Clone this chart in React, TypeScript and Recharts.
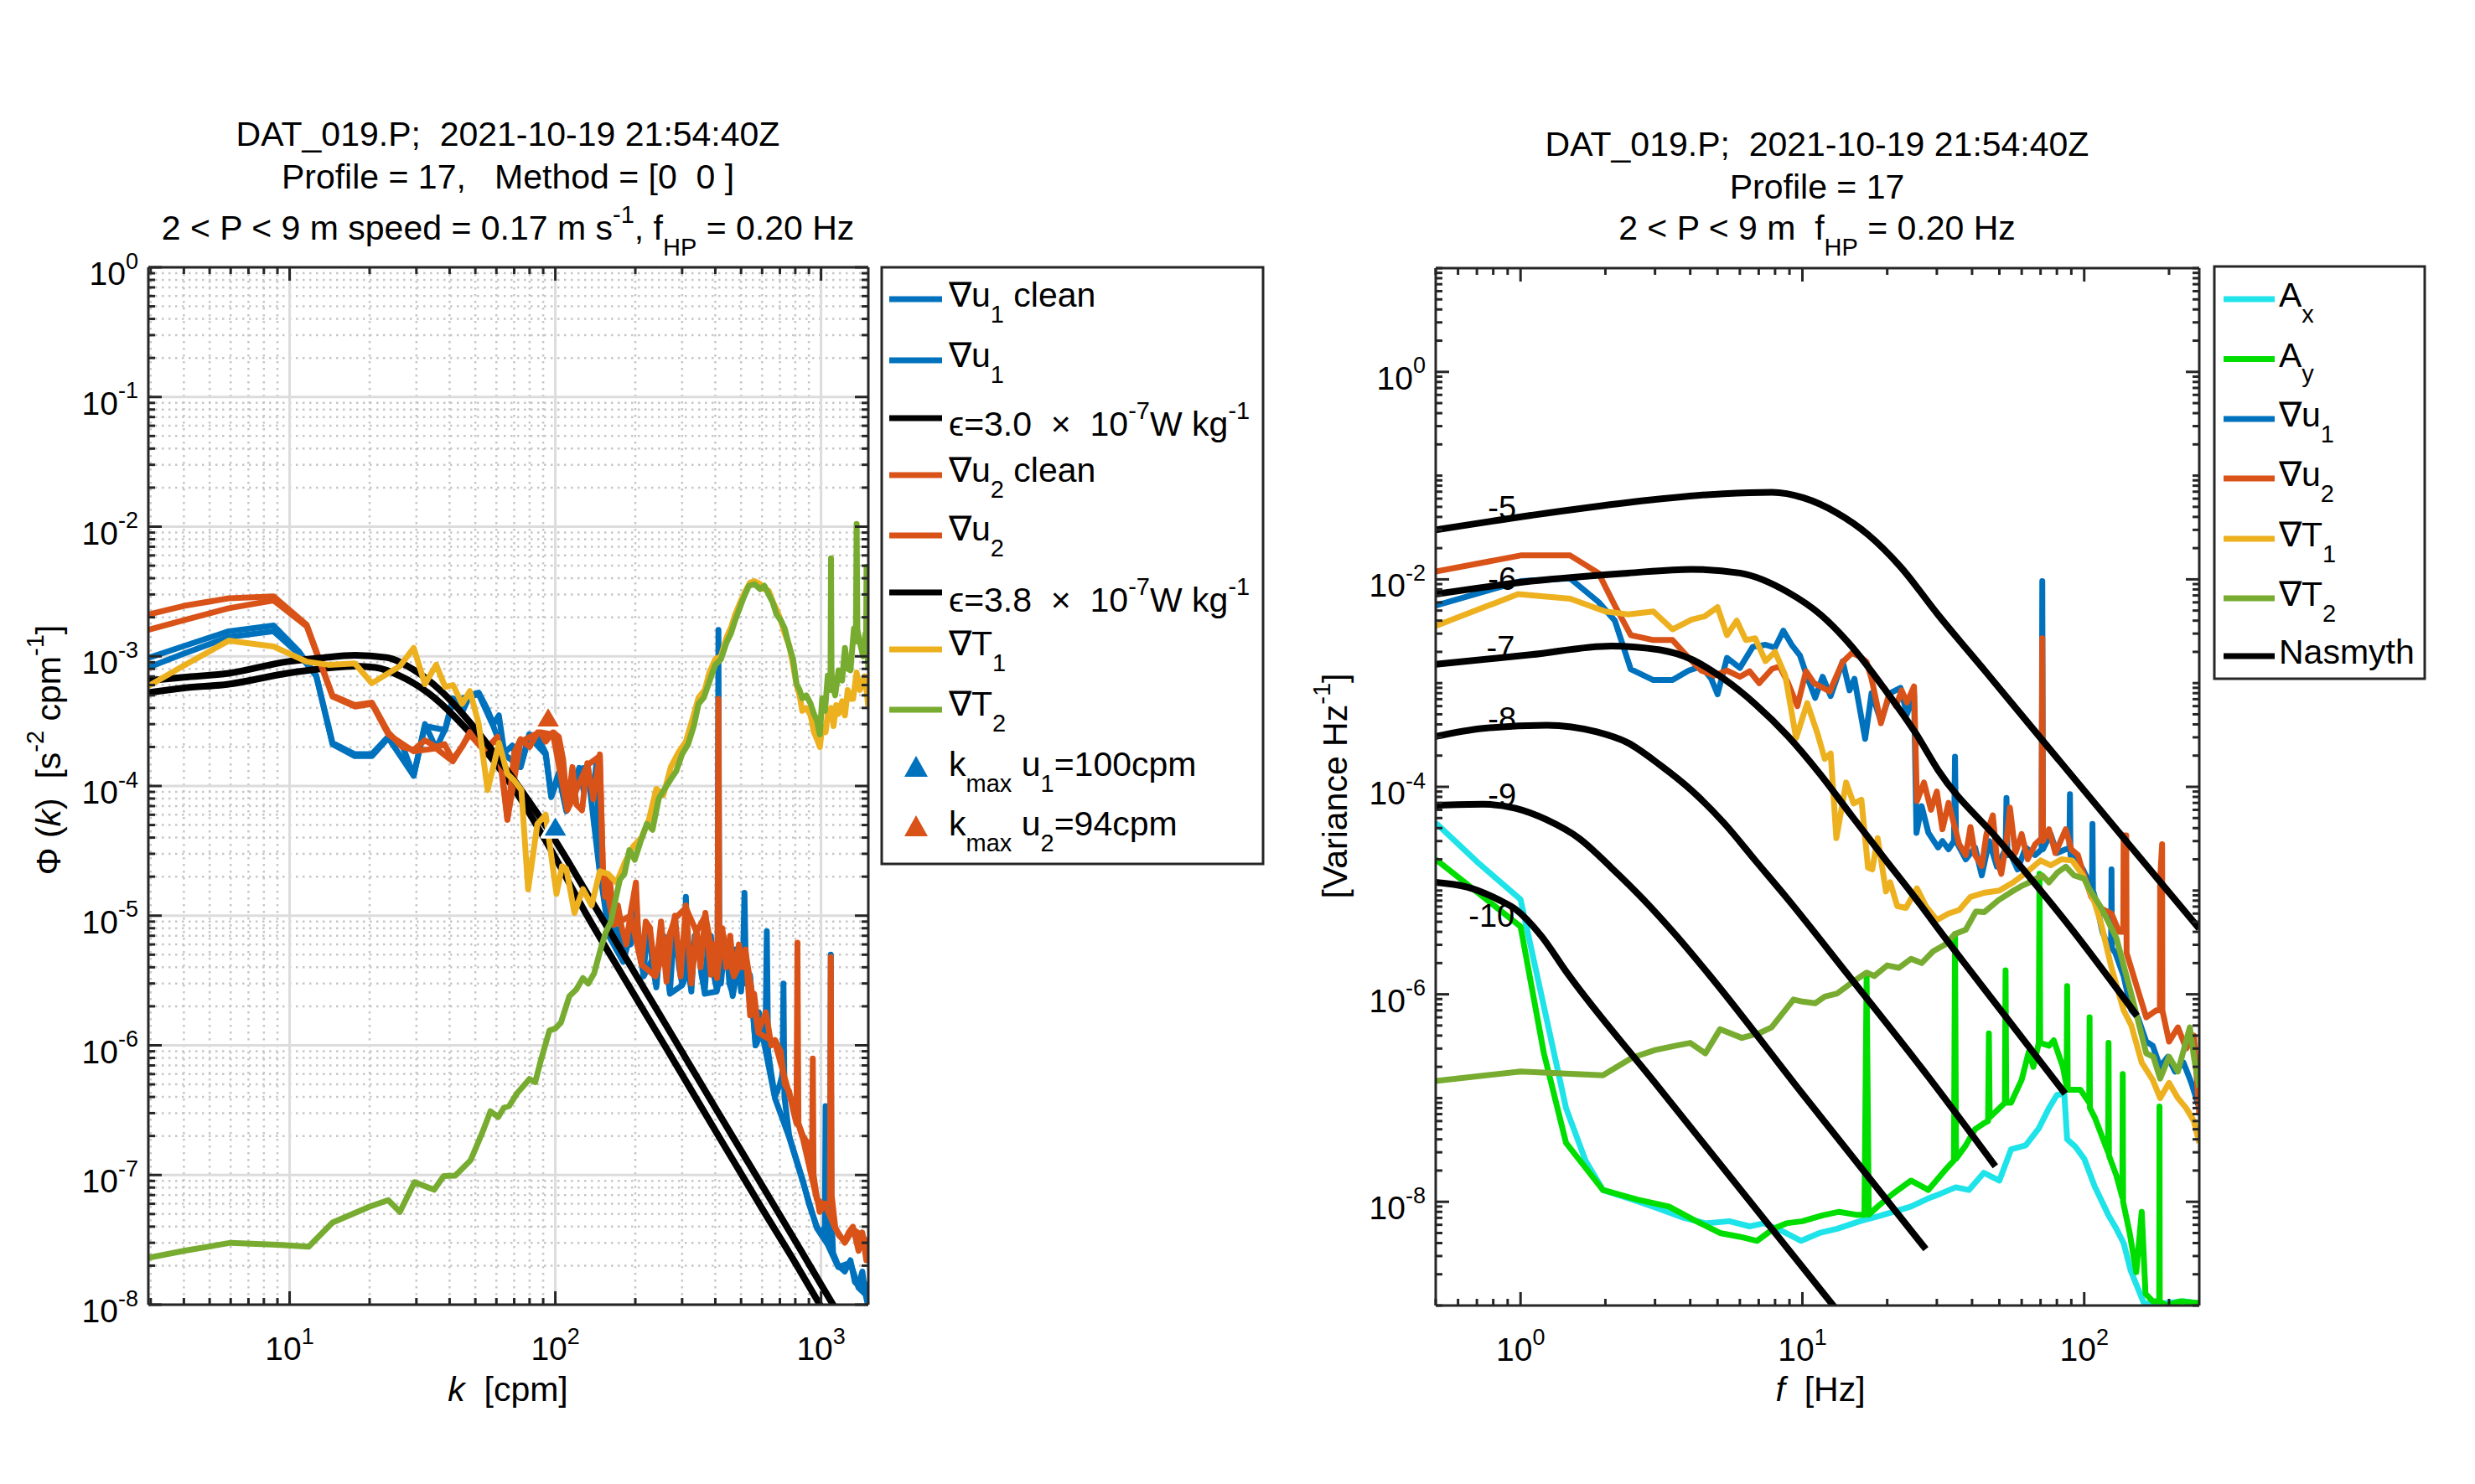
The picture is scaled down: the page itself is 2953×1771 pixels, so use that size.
import React from "react";
import { CartesianGrid, ComposedChart, Line, Scatter, XAxis, YAxis } from "recharts";

type Pt = [number, number];
type Seg = [string, string?];

const FONT = '"Liberation Sans", Arial, Helvetica, sans-serif';
const AXIS_COLOR = "#262626";
const BLUE = "#0072BD";
const ORANGE = "#D95319";
const YELLOW = "#EDB120";
const GREEN = "#77AC30";
const CYAN = "#1EE3E8";
const LIME = "#00DE00";
const TICK_FONT = 39;

// ---------------- left panel: wavenumber spectra, k in cpm ----------------
const u1CleanK: Pt[] = [
  [2.94, 8.2e-4], [4.0, 1.05e-3], [5.9, 1.41e-3], [8.7, 1.56e-3], [10.8, 1.05e-3], [12.6, 7.0e-4],
  [14.5, 2.1e-4], [17.6, 1.7e-4], [20.4, 1.7e-4], [23.5, 2.35e-4], [29.3, 1.2e-4], [32.3, 2.9e-4],
  [38.5, 2.7e-4], [41.2, 4.6e-4], [47.7, 4.9e-4], [51.5, 5.1e-4], [58.4, 2.9e-4], [64.3, 1.75e-4],
  [74, 1.4e-4], [79.7, 2.4e-4], [92, 1.75e-4], [96.5, 8.2e-5], [103, 1.2e-4], [110, 6.4e-5],
  [123, 1.35e-4], [132, 1.4e-4], [146, 2.4e-5], [160, 6.8e-6], [180, 4.4e-6], [201, 1.05e-5],
  [215, 3.4e-6], [255, 6.8e-6], [270, 2.5e-6], [300, 2.9e-6], [345, 5.8e-6], [365, 2.5e-6],
  [405, 2.6e-6], [440, 5.8e-6], [465, 2.4e-6], [490, 4.4e-6], [540, 3.4e-6], [567, 1.0e-6],
  [600, 1.25e-6], [671, 3.9e-7], [759, 1.95e-7], [855, 8.8e-8], [964, 3.9e-8], [1060, 2.9e-8],
  [1160, 1.95e-8], [1290, 2.1e-8], [1384, 1.35e-8], [1470, 1.2e-8], [1506, 1.4e-8],
];

const u1K: Pt[] = [
  [2.94, 9.7e-4], [4.0, 1.2e-3], [5.9, 1.56e-3], [8.7, 1.73e-3], [10.8, 1.1e-3], [12.6, 7.1e-4],
  [14.5, 2.15e-4], [17.6, 1.76e-4], [20.4, 1.76e-4], [23.5, 2.4e-4], [26.7, 2.0e-4], [29.3, 1.2e-4],
  [32.3, 3.0e-4], [35.6, 1.95e-4], [38.5, 2.75e-4], [41.2, 4.75e-4], [44.6, 3.7e-4], [47.7, 5.0e-4],
  [51.5, 5.25e-4], [55.5, 3.9e-4], [58.4, 3.0e-4], [61.3, 3.5e-4], [64.3, 1.8e-4], [68.9, 2.05e-4],
  [74, 1.4e-4], [79.7, 2.5e-4], [85.6, 2.4e-4], [92, 1.8e-4], [96.5, 8.4e-5], [103, 1.26e-4],
  [110, 6.6e-5], [118, 1.07e-4], [123, 1.38e-4], [128, 9.0e-5], [132, 1.45e-4], [139, 8.0e-5],
  [143, 1.6e-4], [146, 2.5e-5], [152, 2.0e-5], [160, 7.0e-6], [165, 1.0e-5], [170, 5.5e-6],
  [175, 8.0e-6], [180, 4.5e-6], [186, 7.0e-6], [192, 6.0e-6], [201, 1.1e-5], [208, 5.0e-6],
  [215, 3.5e-6], [221, 7.5e-6], [227, 6.5e-6], [233, 4.0e-6], [240, 2.8e-6], [248, 6.0e-6],
  [255, 7.0e-6], [262, 4.0e-6], [270, 2.6e-6], [278, 6.5e-6], [285, 7.5e-6], [292, 4.0e-6],
  [300, 3.0e-6], [306, 5.0e-6], [310, 1.4e-5], [316, 4.0e-6], [325, 2.6e-6], [335, 7.0e-6],
  [345, 6.0e-6], [355, 3.5e-6], [365, 2.6e-6], [375, 6.0e-6], [385, 7.0e-6], [395, 3.5e-6],
  [405, 2.7e-6], [408, 5.0e-6], [411, 1.6e-3], [414, 6.0e-6], [420, 3.0e-6], [430, 5.0e-6],
  [440, 6.0e-6], [452, 3.0e-6], [465, 2.5e-6], [478, 5.5e-6], [490, 4.5e-6], [500, 2.6e-6],
  [508, 4.0e-6], [515, 1.5e-5], [522, 3.0e-6], [540, 3.5e-6], [553, 2.0e-6], [567, 1.0e-6],
  [583, 1.8e-6], [600, 1.3e-6], [618, 1.2e-6], [625, 7.6e-6], [632, 9.0e-7], [650, 6.0e-7],
  [671, 4.0e-7], [700, 5.0e-7], [716, 6.0e-7], [722, 3.0e-6], [728, 4.0e-7], [759, 2.0e-7],
  [800, 1.4e-7], [855, 9.0e-8], [900, 6.0e-8], [964, 4.0e-8], [1000, 3.5e-8], [1034, 4.0e-8],
  [1040, 3.4e-7], [1046, 4.0e-8], [1060, 3.0e-8], [1082, 5.0e-8], [1088, 5.0e-6], [1094, 5.0e-8],
  [1110, 2.5e-8], [1160, 2.0e-8], [1228, 1.8e-8], [1290, 2.2e-8], [1340, 1.5e-8], [1384, 1.4e-8],
  [1430, 1.8e-8], [1470, 1.2e-8], [1500, 1.0e-8], [1506, 1.5e-8],
];

const eps1K: Pt[] = [
  [2.94, 5.25e-4], [4, 5.7e-4], [5.9, 6.1e-4], [9.8, 7.4e-4], [13, 8.0e-4], [17.6, 8.4e-4],
  [21, 8.2e-4], [25.9, 7.1e-4], [33.1, 5.25e-4], [42.2, 3.36e-4], [53.7, 1.95e-4], [68.4, 1.02e-4],
  [87, 4.6e-5], [100, 2.8e-5], [130, 1.05e-5], [180, 3.4e-6], [260, 9.7e-7], [400, 2.2e-7],
  [600, 5.5e-8], [800, 2.1e-8], [990, 1.0e-8], [1200, 5.2e-9],
];

const u2CleanK: Pt[] = [
  [2.94, 1.6e-3], [4.0, 1.9e-3], [5.9, 2.35e-3], [8.7, 2.7e-3], [11.6, 1.7e-3], [14.5, 4.9e-4],
  [17.6, 4.1e-4], [20.4, 4.3e-4], [23.5, 2.5e-4], [29.3, 1.85e-4], [35.6, 1.95e-4], [41.1, 1.55e-4],
  [47.6, 2.5e-4], [53.7, 1.9e-4], [60.6, 2.3e-4], [66, 5.5e-5], [74, 2.2e-4], [87, 2.6e-4],
  [98, 2.5e-4], [111, 6.5e-5], [132, 1.45e-4], [147, 1.7e-4], [151, 2.2e-5], [166, 8.5e-6],
  [192, 1.0e-5], [211, 4.2e-6], [238, 3.4e-6], [282, 9.5e-6], [310, 1.15e-5], [340, 7.5e-6],
  [367, 1.0e-5], [406, 3.3e-6], [425, 7.5e-6], [470, 3.4e-6], [520, 5.2e-6], [581, 1.25e-6],
  [671, 1.05e-6], [759, 4.2e-7], [855, 1.9e-7], [964, 6.5e-8], [1040, 5.8e-8], [1130, 3.9e-8],
  [1228, 3.0e-8], [1318, 3.8e-8], [1430, 3.4e-8], [1506, 2.9e-8],
];

const u2K: Pt[] = [
  [2.94, 2.1e-3], [4.0, 2.45e-3], [5.9, 2.8e-3], [8.7, 2.9e-3], [11.6, 1.75e-3], [14.5, 5.0e-4],
  [17.6, 4.2e-4], [20.4, 4.4e-4], [23.5, 2.6e-4], [26.5, 2.0e-4], [29.3, 1.9e-4], [32.3, 2.25e-4],
  [35.6, 2.0e-4], [38.3, 2.1e-4], [41.1, 1.6e-4], [44.5, 2.0e-4], [47.6, 2.6e-4], [50.5, 2.2e-4],
  [53.7, 2.0e-4], [57, 2.1e-4], [60.6, 2.4e-4], [64, 1.0e-4], [66, 5.5e-5], [70, 1.8e-4],
  [74, 2.3e-4], [80, 2.0e-4], [87, 2.7e-4], [92, 2.2e-4], [98, 2.6e-4], [103, 2.4e-4],
  [107, 1.6e-4], [111, 6.6e-5], [116, 1.4e-4], [120, 7.2e-5], [126, 6.5e-5], [132, 1.5e-4],
  [139, 7.9e-5], [147, 1.75e-4], [151, 2.3e-5], [154, 1.4e-5], [160, 2.0e-5], [166, 9.0e-6],
  [172, 1.2e-5], [178, 8.0e-6], [185, 6.0e-6], [192, 1.05e-5], [201, 1.8e-5], [206, 6.0e-6],
  [211, 4.3e-6], [219, 9.0e-6], [227, 8.1e-6], [238, 3.5e-6], [250, 9.0e-6], [262, 3.1e-6],
  [272, 7.0e-6], [282, 1.0e-5], [296, 3.4e-6], [310, 1.2e-5], [325, 3.0e-6], [340, 8.0e-6],
  [352, 4.0e-6], [367, 1.05e-5], [385, 3.5e-6], [398, 6.0e-6], [406, 3.4e-6], [408, 5.0e-6],
  [411, 4.7e-4], [414, 6.0e-6], [425, 8.0e-6], [440, 4.0e-6], [455, 7.0e-6], [470, 3.5e-6],
  [491, 6.0e-6], [505, 4.0e-6], [520, 5.5e-6], [541, 1.7e-6], [560, 2.5e-6], [581, 1.3e-6],
  [620, 1.8e-6], [650, 1.0e-6], [671, 1.1e-6], [705, 9.0e-7], [730, 5.0e-7], [759, 4.4e-7],
  [790, 3.0e-7], [808, 2.5e-7], [815, 6.2e-6], [822, 2.5e-7], [855, 2.0e-7], [898, 1.7e-7],
  [925, 1.2e-7], [931, 7.9e-7], [937, 1.0e-7], [964, 6.8e-8], [988, 5.2e-8], [1040, 6.0e-8],
  [1080, 6.0e-8], [1088, 4.8e-6], [1096, 7.0e-8], [1130, 4.0e-8], [1170, 3.4e-8], [1228, 3.1e-8],
  [1270, 3.6e-8], [1318, 4.0e-8], [1384, 2.6e-8], [1430, 3.6e-8], [1480, 2.2e-8], [1506, 3.0e-8],
];

const eps2K: Pt[] = [
  [2.94, 6.5e-4], [4, 6.9e-4], [5.9, 7.4e-4], [9.8, 9.1e-4], [13, 9.7e-4], [17.6, 1.02e-3],
  [23.1, 9.8e-4], [29.5, 7.8e-4], [37.7, 5.25e-4], [48, 3.05e-4], [61.4, 1.6e-4], [78.3, 8.0e-5],
  [100, 3.8e-5], [130, 1.55e-5], [180, 5.1e-6], [260, 1.45e-6], [400, 3.3e-7], [600, 8.3e-8],
  [800, 3.1e-8], [1110, 1.0e-8], [1300, 5.9e-9],
];

const t1K: Pt[] = [
  [2.94, 5.9e-4], [4.0, 8.5e-4], [5.9, 1.32e-3], [8.7, 1.19e-3], [11.6, 9.1e-4], [14, 8.6e-4],
  [17.6, 8.8e-4], [20.4, 6.2e-4], [26, 8.4e-4], [29.3, 1.16e-3], [32.3, 6.1e-4], [35.6, 8.6e-4],
  [38.5, 5.8e-4], [41.2, 6.0e-4], [44.6, 4.3e-4], [47.7, 5.4e-4], [51.5, 3.0e-4], [55.6, 9.3e-5],
  [61.4, 2.15e-4], [66, 1.24e-4], [70, 1.1e-4], [74.5, 9.3e-5], [79, 1.6e-5], [85.6, 5.1e-5],
  [92, 6.0e-5], [101, 1.47e-5], [106, 2.4e-5], [110, 2.3e-5], [118, 1.05e-5], [127, 1.6e-5],
  [137, 1.2e-5], [147, 2.2e-5], [158, 2.1e-5], [170, 1.8e-5], [183, 2.6e-5], [196, 3.4e-5],
  [211, 4.0e-5], [225, 5.5e-5], [240, 9.5e-5], [255, 8.5e-5], [272, 1.4e-4], [290, 1.8e-4],
  [310, 2.2e-4], [330, 3.4e-4], [346, 4.8e-4], [365, 5.5e-4], [380, 7.5e-4], [400, 9.5e-4],
  [420, 1.0e-3], [441, 1.4e-3], [460, 1.7e-3], [475, 2.1e-3], [500, 2.7e-3], [520, 3.2e-3],
  [540, 3.7e-3], [562, 3.8e-3], [590, 3.6e-3], [610, 3.3e-3], [635, 3.2e-3], [660, 2.6e-3],
  [680, 2.3e-3], [705, 1.9e-3], [730, 1.5e-3], [760, 1.2e-3], [785, 8.5e-4], [809, 6.0e-4],
  [830, 5.0e-4], [850, 3.8e-4], [880, 4.0e-4], [914, 3.5e-4], [940, 2.6e-4], [965, 2.3e-4],
  [990, 2.0e-4], [1010, 2.9e-4], [1040, 2.6e-4], [1060, 3.6e-4], [1090, 4.0e-4], [1114, 2.9e-4],
  [1140, 4.2e-4], [1164, 3.6e-4], [1200, 4.5e-4], [1230, 3.5e-4], [1260, 5.5e-4], [1290, 4.7e-4],
  [1320, 4.7e-4], [1361, 7.5e-4], [1400, 5.5e-4], [1422, 6.0e-4], [1460, 7.0e-4], [1483, 5.5e-4],
  [1506, 4.1e-4],
];

const t2K: Pt[] = [
  [2.94, 2.3e-8], [4, 2.6e-8], [6, 3.0e-8], [9, 2.9e-8], [11.8, 2.8e-8], [14.5, 4.3e-8],
  [20, 5.7e-8], [23.5, 6.4e-8], [26, 5.2e-8], [29.5, 8.8e-8], [35, 7.7e-8], [38, 9.8e-8],
  [42, 9.9e-8], [48, 1.3e-7], [53, 2.1e-7], [57, 3.1e-7], [61, 2.8e-7], [64, 3.3e-7],
  [67, 3.4e-7], [72, 4.3e-7], [80, 5.5e-7], [84, 5.2e-7], [88, 7.5e-7], [95, 1.3e-6],
  [100, 1.35e-6], [105, 1.5e-6], [113, 2.4e-6], [120, 2.7e-6], [127, 3.3e-6], [133, 3.0e-6],
  [140, 3.6e-6], [148, 5.5e-6], [155, 7.5e-6], [162, 9.0e-6], [168, 1.3e-5], [175, 1.9e-5],
  [182, 2.1e-5], [190, 3.2e-5], [199, 2.7e-5], [210, 3.8e-5], [221, 5.1e-5], [232, 4.6e-5],
  [245, 8.0e-5], [258, 9.5e-5], [272, 1.13e-4], [285, 1.3e-4], [300, 1.76e-4], [316, 2.1e-4],
  [332, 2.9e-4], [346, 4.3e-4], [362, 4.8e-4], [380, 6.4e-4], [400, 8.6e-4], [420, 9.5e-4],
  [441, 1.28e-3], [458, 1.5e-3], [475, 1.9e-3], [492, 2.3e-3], [510, 2.8e-3], [535, 3.5e-3],
  [562, 3.6e-3], [590, 3.3e-3], [612, 3.5e-3], [635, 3.0e-3], [658, 2.6e-3], [680, 2.1e-3],
  [705, 1.9e-3], [730, 1.64e-3], [758, 1.2e-3], [785, 9.5e-4], [809, 6.1e-4], [830, 5.5e-4],
  [850, 4.75e-4], [880, 5.0e-4], [914, 4.3e-4], [940, 3.6e-4], [965, 3.2e-4], [990, 2.5e-4],
  [1010, 4.75e-4], [1035, 3.8e-4], [1060, 7.1e-4], [1080, 5.5e-4], [1086, 8.0e-4], [1090, 5.7e-3],
  [1095, 8.0e-4], [1100, 6.1e-4], [1130, 5.0e-4], [1164, 7.8e-4], [1200, 6.5e-4], [1230, 1.16e-3],
  [1260, 8.0e-4], [1290, 7.8e-4], [1330, 1.64e-3], [1352, 1.3e-3], [1361, 1.05e-2], [1370, 1.6e-3],
  [1400, 1.28e-3], [1440, 1.0e-3], [1470, 1.5e-3], [1478, 1.5e-3], [1483, 4.9e-3], [1490, 1.3e-3],
  [1506, 7.8e-4],
];

const kmaxU1: Pt[] = [[100, 4.75e-5]];
const kmaxU2: Pt[] = [[94, 3.3e-4]];

// ---------------- right panel: frequency spectra, f in Hz ----------------
const axF: Pt[] = [
  [0.5, 4.5e-5], [0.7, 1.9e-5], [1.0, 8.2e-6], [1.45, 8.0e-8], [1.7, 2.5e-8], [1.96, 1.3e-8],
  [2.5, 1.05e-8], [2.98, 8.9e-9], [3.8, 7.0e-9], [4.53, 6.2e-9], [5.5, 6.5e-9], [6.5, 5.8e-9],
  [7.3, 6.2e-9], [8.5, 5.2e-9], [9.9, 4.2e-9], [11.5, 5.0e-9], [13.3, 5.5e-9], [16, 6.5e-9],
  [19.1, 7.4e-9], [24.3, 9.0e-9], [27.8, 1.07e-8], [31, 1.2e-8], [35, 1.38e-8], [39, 1.3e-8],
  [44, 1.9e-8], [50, 1.6e-8], [55, 3.2e-8], [62, 3.5e-8], [69, 5.1e-8], [75, 8.0e-8],
  [80, 1.07e-7], [85, 1.1e-7], [87, 4.0e-8], [93, 3.4e-8], [100, 2.6e-8], [109, 1.4e-8],
  [122, 7.4e-9], [130, 5.5e-9], [138, 4.0e-9], [146, 2.2e-9], [153, 1.6e-9], [163, 1.05e-9],
  [190, 1.05e-9], [225, 1.1e-9], [256, 1.05e-9],
];

const ayF: Pt[] = [
  [0.5, 2.0e-5], [1.0, 4.5e-6], [1.21, 2.7e-7], [1.45, 3.7e-8], [1.96, 1.3e-8], [2.6, 1.05e-8],
  [3.36, 9.0e-9], [4.2, 6.5e-9], [5.1, 5.0e-9], [6.0, 4.6e-9], [6.9, 4.2e-9], [7.9, 5.5e-9],
  [8.77, 6.2e-9], [10, 6.5e-9], [11.8, 7.4e-9], [13.5, 8.0e-9], [15.5, 7.5e-9], [16.6, 7.5e-9],
  [16.9, 1.48e-6], [17.2, 7.5e-9], [18.5, 9.0e-9], [21, 1.2e-8], [24.3, 1.6e-8], [28, 1.3e-8],
  [32, 2.0e-8], [34.5, 2.5e-8], [34.8, 3.8e-6], [35.1, 2.6e-8], [38, 3.5e-8], [41, 5.0e-8],
  [44, 5.7e-8], [45.6, 6.0e-8], [45.9, 4.2e-7], [46.2, 6.5e-8], [50, 8.0e-8], [52.3, 9.0e-8],
  [52.6, 1.7e-6], [52.9, 9.0e-8], [55, 9.0e-8], [60, 1.5e-7], [63.6, 2.8e-7], [66, 2.0e-7],
  [69, 3.4e-7], [69.4, 1.45e-5], [69.8, 3.4e-7], [75, 3.2e-7], [78, 3.6e-7], [84, 2.0e-7],
  [86.6, 1.3e-7], [87, 1.2e-6], [87.4, 1.2e-7], [97, 1.2e-7], [104.2, 9.0e-8], [104.5, 6.0e-7],
  [104.8, 8.0e-8], [109, 6.5e-8], [121.6, 3.0e-8], [122, 3.4e-7], [122.4, 2.8e-8], [130, 1.8e-8],
  [136.6, 1.1e-8], [137, 1.7e-7], [137.4, 1.0e-8], [145, 5.0e-9], [153, 2.1e-9], [160, 8.0e-9],
  [165, 1.3e-9], [175, 1.1e-9], [184.6, 1.1e-9], [185, 8.3e-8], [185.4, 1.1e-9], [195, 1.0e-9],
  [220, 1.1e-9], [256, 1.05e-9],
];

const u1F: Pt[] = [
  [0.5, 5.6e-3], [1.0, 9.6e-3], [1.5, 1.02e-2], [1.89, 6.05e-3], [2.16, 4.0e-3], [2.46, 1.36e-3],
  [2.96, 1.07e-3], [3.46, 1.07e-3], [3.95, 1.32e-3], [4.38, 1.45e-3], [4.75, 1.1e-3], [5.0, 7.8e-4],
  [5.4, 1.75e-3], [6.0, 1.4e-3], [6.67, 2.24e-3], [7.4, 2.34e-3], [8.0, 2.2e-3], [8.56, 3.2e-3],
  [9.2, 2.3e-3], [9.8, 1.85e-3], [10.4, 1.15e-3], [11.1, 7.2e-4], [11.8, 1.15e-3], [12.6, 7.5e-4],
  [13.9, 1.62e-3], [14.7, 8.5e-4], [15.3, 1.1e-3], [16.7, 2.9e-4], [17.6, 8.0e-4], [19.0, 4.3e-4],
  [20.5, 8.0e-4], [22.3, 9.0e-4], [23.5, 5.0e-4], [24.9, 8.0e-4], [25.4, 3.6e-5], [26.5, 6.5e-5],
  [28, 3.6e-5], [30.3, 2.6e-5], [31.4, 3.0e-5], [33, 2.5e-5], [34.5, 3.0e-5], [34.8, 1.95e-4],
  [35.1, 3.0e-5], [38, 2.0e-5], [41, 2.6e-5], [43.3, 1.4e-5], [46, 3.0e-5], [49, 1.7e-5],
  [52.6, 2.5e-5], [53, 7.8e-5], [53.4, 2.2e-5], [55, 2.2e-5], [58, 1.6e-5], [62, 2.6e-5],
  [67, 2.2e-5], [70.6, 2.5e-5], [71, 9.6e-3], [71.4, 2.5e-5], [76, 3.5e-5], [80, 2.3e-5],
  [86, 2.5e-5], [88.6, 2.5e-5], [89, 8.5e-5], [89.4, 2.2e-5], [92, 2.2e-5], [99, 1.6e-5],
  [104, 1.2e-5], [106.6, 1.2e-5], [107, 4.4e-5], [107.4, 1.0e-5], [110, 8.0e-6], [116, 4.0e-6],
  [121, 3.0e-6], [124.6, 3.0e-6], [125, 1.6e-5], [125.4, 2.8e-6], [129, 2.5e-6], [138, 1.5e-6],
  [147, 7.0e-7], [155, 6.0e-7], [166, 3.5e-7], [175, 3.2e-7], [186, 2.0e-7], [198, 2.5e-7],
  [210, 1.8e-7], [225, 2.2e-7], [240, 1.4e-7], [256, 8.0e-8],
];

const u2F: Pt[] = [
  [0.5, 1.19e-2], [1.0, 1.7e-2], [1.5, 1.7e-2], [1.89, 1.15e-2], [2.16, 5.6e-3], [2.46, 2.9e-3],
  [2.96, 2.6e-3], [3.46, 2.6e-3], [3.95, 1.75e-3], [4.38, 1.32e-3], [4.87, 1.18e-3], [5.4, 1.32e-3],
  [6.0, 1.15e-3], [6.5, 1.3e-3], [7.03, 1.0e-3], [7.8, 1.37e-3], [8.3, 1.45e-3], [8.9, 1.0e-3],
  [9.6, 6.0e-4], [10.3, 1.3e-3], [11.0, 1.0e-3], [12.5, 8.3e-4], [13.9, 1.6e-3], [15.0, 1.95e-3],
  [16.0, 1.8e-3], [16.9, 1.6e-3], [17.6, 1.1e-3], [19.0, 4.1e-4], [20.3, 7.8e-4], [21.5, 6.0e-4],
  [22.5, 8.5e-4], [23.5, 6.5e-4], [24.9, 9.3e-4], [25.5, 7.3e-5], [27, 1.1e-4], [28.6, 6.0e-5],
  [30, 9.0e-5], [31.4, 3.9e-5], [33, 7.0e-5], [36, 2.8e-5], [38, 2.2e-5], [39.5, 4.1e-5],
  [41, 2.2e-5], [43.3, 1.73e-5], [45, 3.5e-5], [47.4, 5.3e-5], [49, 2.0e-5], [50.8, 1.45e-5],
  [53, 3.0e-5], [54.5, 6.3e-5], [57, 2.3e-5], [60, 3.5e-5], [63, 2.0e-5], [67, 2.8e-5],
  [70.6, 3.2e-5], [71, 2.7e-3], [71.4, 3.0e-5], [75, 3.9e-5], [79, 2.3e-5], [86, 3.9e-5],
  [90, 2.5e-5], [95, 2.2e-5], [99, 1.5e-5], [106, 8.7e-6], [114, 6.8e-6], [125, 6.0e-6],
  [133, 4.0e-6], [137.6, 4.0e-6], [138, 3.4e-5], [141, 3.4e-5], [141.4, 2.5e-6], [155, 1.1e-6],
  [166, 6.0e-7], [180, 7.0e-7], [185.6, 7.0e-7], [186, 1.3e-5], [189, 2.8e-5], [189.4, 7.0e-7],
  [200, 3.5e-7], [215, 4.8e-7], [230, 3.0e-7], [245, 4.0e-7], [256, 7.0e-8],
];

const t1F: Pt[] = [
  [0.5, 3.56e-3], [0.98, 7.2e-3], [1.5, 6.5e-3], [2.0, 4.9e-3], [2.4, 4.6e-3], [2.96, 4.9e-3],
  [3.46, 3.3e-3], [4.05, 4.1e-3], [4.5, 4.4e-3], [5.0, 5.4e-3], [5.4, 2.9e-3], [5.85, 4.0e-3],
  [6.3, 2.6e-3], [6.8, 2.7e-3], [7.4, 1.63e-3], [8.0, 2.0e-3], [8.7, 1.18e-3], [9.5, 2.95e-4],
  [9.9, 4.2e-4], [10.4, 6.4e-4], [11.3, 3.3e-4], [12.0, 1.86e-4], [12.6, 2.1e-4], [13.2, 3.2e-5],
  [14.3, 1.1e-4], [15.2, 6.9e-5], [16.2, 7.5e-5], [17.1, 1.66e-5], [17.7, 1.6e-5], [18.5, 3.2e-5],
  [19.8, 9.8e-6], [20.5, 1.2e-5], [21.7, 7.1e-6], [23.3, 6.8e-6], [25.5, 1.05e-5], [27.5, 7.0e-6],
  [30, 5.2e-6], [33, 6.0e-6], [36, 6.5e-6], [39.5, 8.7e-6], [44, 9.5e-6], [50, 1.0e-5],
  [56, 1.2e-5], [62.5, 1.5e-5], [70, 1.95e-5], [76, 1.75e-5], [83, 2.0e-5], [90.6, 1.95e-5],
  [99, 1.4e-5], [109, 7.6e-6], [115, 4.7e-6], [125, 1.8e-6], [138, 7.0e-7], [147, 5.0e-7],
  [160, 2.2e-7], [175, 1.5e-7], [186, 1.0e-7], [200, 1.4e-7], [215, 1.0e-7], [230, 8.0e-8],
  [245, 6.0e-8], [256, 3.7e-8],
];

const t2F: Pt[] = [
  [0.5, 1.46e-7], [1.0, 1.8e-7], [1.96, 1.66e-7], [2.49, 2.45e-7], [3.0, 2.9e-7], [3.56, 3.2e-7],
  [4.0, 3.4e-7], [4.53, 2.7e-7], [5.1, 4.6e-7], [6.1, 3.8e-7], [7.0, 4.2e-7], [7.77, 4.8e-7],
  [9.3, 8.9e-7], [10, 8.5e-7], [11.1, 8.2e-7], [12, 9.5e-7], [13.3, 1.02e-6], [15, 1.3e-6],
  [16.9, 1.62e-6], [18, 1.5e-6], [20, 1.9e-6], [22, 1.8e-6], [24.3, 2.2e-6], [26.5, 2.0e-6],
  [29.1, 2.6e-6], [32, 3.0e-6], [34.7, 3.8e-6], [38, 4.2e-6], [41.3, 6.3e-6], [44.2, 6.2e-6],
  [49.7, 8.1e-6], [56.2, 1.0e-5], [59.7, 1.1e-5], [64, 1.2e-5], [67.3, 1.3e-5], [71, 1.4e-5],
  [75, 1.2e-5], [80.5, 1.5e-5], [86, 1.7e-5], [92, 1.4e-5], [100, 1.3e-5], [104, 1.05e-5],
  [115, 6.8e-6], [130, 3.5e-6], [147, 1.0e-6], [166, 2.7e-7], [176, 2.5e-7], [186, 1.54e-7],
  [200, 2.5e-7], [215, 1.8e-7], [237, 4.8e-7], [245, 2.5e-7], [256, 1.26e-7],
];

const nas5: Pt[] = [
  [0.5, 3.0e-2], [1.09, 4.14e-2], [2.4, 5.5e-2], [5.26, 6.7e-2], [7.8, 6.9e-2], [10.1, 6.1e-2],
  [13.2, 4.4e-2], [17.1, 2.7e-2], [22.3, 1.32e-2], [30.3, 4.56e-3], [45, 1.26e-3], [80.5, 1.87e-4],
  [140, 3.06e-5], [256, 4.3e-6],
];
const nas6: Pt[] = [
  [0.5, 7.2e-3], [1.09, 9.6e-3], [2.4, 1.15e-2], [4.05, 1.25e-2], [6.0, 1.15e-2], [8.9, 7.5e-3],
  [11.6, 4.57e-3], [15.0, 2.24e-3], [19.5, 8.9e-4], [25.4, 3.2e-4], [30.3, 1.45e-4], [50, 3.0e-5],
  [90, 4.3e-6], [154, 6.2e-7],
];
const nas7: Pt[] = [
  [0.5, 1.52e-3], [1.09, 1.88e-3], [2.1, 2.28e-3], [3.12, 2.09e-3], [4.05, 1.69e-3], [5.26, 1.1e-3],
  [6.84, 6.2e-4], [8.9, 3.07e-4], [11.6, 1.31e-4], [15, 5.2e-5], [19.5, 2.06e-5], [25.4, 8.2e-6],
  [30.3, 4.3e-6], [50, 7.3e-7], [85.6, 1.1e-7],
];
const nas8: Pt[] = [
  [0.5, 3.06e-4], [0.736, 3.66e-4], [1.24, 3.93e-4], [1.85, 3.4e-4], [2.4, 2.66e-4], [3.12, 1.63e-4],
  [4.05, 9.2e-5], [5.26, 4.5e-5], [6.84, 1.92e-5], [8.9, 8.2e-6], [14.5, 1.55e-6], [28, 1.6e-7],
  [48.4, 2.2e-8],
];
const nas9: Pt[] = [
  [0.5, 6.65e-5], [0.736, 6.8e-5], [0.96, 6.2e-5], [1.24, 4.8e-5], [1.62, 3.16e-5], [2.1, 1.66e-5],
  [2.73, 8.2e-6], [3.55, 3.74e-6], [4.6, 1.62e-6], [10, 1.1e-7], [27.4, 3.5e-9],
];
const nas10: Pt[] = [
  [0.5, 1.2e-5], [0.646, 1.08e-5], [0.84, 8.1e-6], [0.96, 6.6e-6], [1.18, 3.7e-6], [1.46, 1.62e-6],
  [3, 1.4e-7], [13.5, 8.5e-10],
];

const nasmythLabels = [
  { x: 0.86, y: 4.9e-2, label: "-5" },
  { x: 0.86, y: 1.0e-2, label: "-6" },
  { x: 0.85, y: 2.2e-3, label: "-7" },
  { x: 0.86, y: 4.5e-4, label: "-8" },
  { x: 0.86, y: 8.3e-5, label: "-9" },
  { x: 0.79, y: 5.7e-6, label: "-10" },
];

// ---------------- axes ----------------
const LEFT_X: [number, number] = [2.94, 1506];
const LEFT_Y: [number, number] = [1e-8, 1];
const RIGHT_X: [number, number] = [0.5, 256];
const RIGHT_Y: [number, number] = [1e-9, 10];

const logTicks = ([lo, hi]: [number, number]) => {
  const out: number[] = [];
  for (let e = Math.floor(Math.log10(lo)); e <= Math.ceil(Math.log10(hi)); e++) {
    for (let d = 1; d <= 9; d++) {
      const v = Number((d * Math.pow(10, e)).toPrecision(6));
      if (v >= lo * 0.999 && v <= hi * 1.001) out.push(v);
    }
  }
  return out;
};
const isDecade = (v: number) => Math.abs(Math.log10(v) - Math.round(Math.log10(v))) < 1e-6;
const isEvenDecade = (v: number) => isDecade(v) && Math.round(Math.log10(v)) % 2 === 0;

const leftXTicks = logTicks(LEFT_X);
const leftYTicks = logTicks(LEFT_Y);
const rightXTicks = logTicks(RIGHT_X);
const rightYTicks = logTicks(RIGHT_Y);

const titleLeft: Seg[][] = [
  [["DAT_019.P;  2021-10-19 21:54:40Z"]],
  [["Profile = 17,   Method = [0  0 ]"]],
  [["2 < P < 9 m speed = 0.17 m s"], ["-1", "sup"], [", f"], ["HP", "sub"], [" = 0.20 Hz"]],
];
const titleRight: Seg[][] = [
  [["DAT_019.P;  2021-10-19 21:54:40Z"]],
  [["Profile = 17"]],
  [["2 < P < 9 m  f"], ["HP", "sub"], [" = 0.20 Hz"]],
];

const epsSegs = (v: string): Seg[] => [["ϵ"], [`=${v}  ×  10`], ["-7", "sup"], ["W kg"], ["-1", "sup"]];

const leftLegend = [
  { kind: "line", color: BLUE, y: 357, base: 366, segs: [["∇u"], ["1", "sub"], [" clean"]] as Seg[] },
  { kind: "line", color: BLUE, y: 430, base: 438, segs: [["∇u"], ["1", "sub"]] as Seg[] },
  { kind: "line", color: "#000", y: 499, base: 520, segs: epsSegs("3.0") },
  { kind: "line", color: ORANGE, y: 567, base: 575, segs: [["∇u"], ["2", "sub"], [" clean"]] as Seg[] },
  { kind: "line", color: ORANGE, y: 639, base: 645, segs: [["∇u"], ["2", "sub"]] as Seg[] },
  { kind: "line", color: "#000", y: 707, base: 730, segs: epsSegs("3.8") },
  { kind: "line", color: YELLOW, y: 775, base: 782, segs: [["∇T"], ["1", "sub"]] as Seg[] },
  { kind: "line", color: GREEN, y: 847, base: 854, segs: [["∇T"], ["2", "sub"]] as Seg[] },
  { kind: "tri", color: BLUE, y: 916, base: 926, segs: [["k"], ["max", "sub"], [" u"], ["1", "sub"], ["=100cpm"]] as Seg[] },
  { kind: "tri", color: ORANGE, y: 987, base: 997, segs: [["k"], ["max", "sub"], [" u"], ["2", "sub"], ["=94cpm"]] as Seg[] },
];

const rightLegend = [
  { color: CYAN, segs: [["A"], ["x", "sub"]] as Seg[] },
  { color: LIME, segs: [["A"], ["y", "sub"]] as Seg[] },
  { color: BLUE, segs: [["∇u"], ["1", "sub"]] as Seg[] },
  { color: ORANGE, segs: [["∇u"], ["2", "sub"]] as Seg[] },
  { color: YELLOW, segs: [["∇T"], ["1", "sub"]] as Seg[] },
  { color: GREEN, segs: [["∇T"], ["2", "sub"]] as Seg[] },
  { color: "#000", segs: [["Nasmyth"]] as Seg[] },
];
const rightLegendRows = [357, 428.5, 500, 571, 643, 714, 783];

const toPts = (arr: Pt[]) => arr.map(([x, y]) => ({ x, y }));

const leftSeries = [
  { id: "u1c", data: u1CleanK, color: BLUE },
  { id: "u1", data: u1K, color: BLUE },
  { id: "e1", data: eps1K, color: "#000", smooth: true },
  { id: "u2c", data: u2CleanK, color: ORANGE },
  { id: "u2", data: u2K, color: ORANGE },
  { id: "e2", data: eps2K, color: "#000", smooth: true },
  { id: "t1", data: t1K, color: YELLOW },
  { id: "t2", data: t2K, color: GREEN },
];

const rightSeries = [
  { id: "ax", data: axF, color: CYAN },
  { id: "ay", data: ayF, color: LIME },
  { id: "u1", data: u1F, color: BLUE },
  { id: "u2", data: u2F, color: ORANGE },
  { id: "t1", data: t1F, color: YELLOW },
  { id: "t2", data: t2F, color: GREEN },
  { id: "n5", data: nas5, color: "#000", smooth: true },
  { id: "n6", data: nas6, color: "#000", smooth: true },
  { id: "n7", data: nas7, color: "#000", smooth: true },
  { id: "n8", data: nas8, color: "#000", smooth: true },
  { id: "n9", data: nas9, color: "#000", smooth: true },
  { id: "n10", data: nas10, color: "#000", smooth: true },
];

// rich text with sub/superscripts
const Rich = ({ x, y, segs, size, anchor = "start", rotate }: any) => {
  let cur = 0;
  const small = Math.round(size * 0.7);
  return (
    <text
      x={x}
      y={y}
      fontSize={size}
      fontFamily={FONT}
      textAnchor={anchor}
      fill="#000"
      style={{ whiteSpace: "pre" }}
      transform={rotate ? `rotate(${rotate} ${x} ${y})` : undefined}
    >
      {segs.map(([t, k]: Seg, i: number) => {
        const target = k === "sub" ? size * 0.46 : k === "sup" ? -size * 0.5 : 0;
        const dy = target - cur;
        cur = target;
        return (
          <tspan key={i} dy={dy} fontSize={k === "sub" || k === "sup" ? small : size} fontStyle={k === "it" ? "italic" : undefined}>
            {t}
          </tspan>
        );
      })}
    </text>
  );
};

const makeTick = (side: "b" | "t" | "l" | "r", isMajor: (v: number) => boolean, labelled?: (v: number) => boolean) =>
  (p: any) => {
    const v = Number(p.payload?.value);
    const len = isMajor(v) ? 16 : 8;
    const { x, y } = p;
    const segs: Seg[] = [["10"], [String(Math.round(Math.log10(v))), "sup"]];
    let line = null;
    let label = null;
    if (side === "b") {
      line = <line x1={x} y1={y} x2={x} y2={y - len} />;
      if (labelled && labelled(v)) label = <Rich x={x} y={y + 66} anchor="middle" size={TICK_FONT} segs={segs} />;
    } else if (side === "t") {
      line = <line x1={x} y1={y} x2={x} y2={y + len} />;
    } else if (side === "l") {
      line = <line x1={x} y1={y} x2={x + len} y2={y} />;
      if (labelled && labelled(v)) label = <Rich x={x - 12} y={y + 21} anchor="end" size={TICK_FONT} segs={segs} />;
    } else {
      line = <line x1={x} y1={y} x2={x - len} y2={y} />;
    }
    return (
      <g>
        <g stroke={AXIS_COLOR} strokeWidth={3}>{line}</g>
        {label}
      </g>
    );
  };

const axisLine = { stroke: AXIS_COLOR, strokeWidth: 3 };

const Triangle = (p: any) => {
  const { cx, cy, fill } = p;
  return (
    <polygon
      points={`${cx},${cy - 16} ${cx - 16},${cy + 11} ${cx + 16},${cy + 11}`}
      fill={fill}
      stroke="#fff"
      strokeWidth={3.5}
      strokeLinejoin="round"
    />
  );
};

const NasLabel = (p: any) => (
  <text x={p.cx} y={p.cy + 13} textAnchor="middle" fontSize={38} fontFamily={FONT} fill="#000">
    {p.payload.label}
  </text>
);

const seriesLines = (list: any[]) =>
  list.map((s) => (
    <Line
      key={s.id}
      data={toPts(s.data)}
      dataKey="y"
      type={s.smooth ? "monotone" : "linear"}
      stroke={s.color}
      strokeWidth={s.smooth ? 8 : 7}
      strokeLinejoin="round"
      dot={false}
      activeDot={false}
      legendType="none"
      isAnimationActive={false}
    />
  ));

const LeftPanel = () => (
  <ComposedChart width={1560} height={1771} margin={{ top: 318, right: 523, bottom: 213, left: 176 }}>
    <CartesianGrid
      horizontalValues={leftYTicks.filter((v) => !isDecade(v))}
      verticalValues={leftXTicks.filter((v) => !isDecade(v))}
      stroke="#c6c6c6"
      strokeWidth={2.5}
      strokeDasharray="2.5 5.5"
    />
    <CartesianGrid
      horizontalValues={leftYTicks.filter(isDecade)}
      verticalValues={leftXTicks.filter(isDecade)}
      stroke="#dcdcdc"
      strokeWidth={3}
    />
    <XAxis dataKey="x" type="number" scale="log" domain={LEFT_X} allowDataOverflow ticks={leftXTicks} interval={0}
      height={1} tickSize={0} tickMargin={0} tickLine={false} axisLine={axisLine} tick={makeTick("b", isDecade, isDecade)} />
    <XAxis xAxisId="top" orientation="top" dataKey="x" type="number" scale="log" domain={LEFT_X} allowDataOverflow
      ticks={leftXTicks} interval={0} height={1} tickSize={0} tickMargin={0} tickLine={false} axisLine={axisLine}
      tick={makeTick("t", isDecade)} />
    <YAxis dataKey="y" type="number" scale="log" domain={LEFT_Y} allowDataOverflow ticks={leftYTicks} interval={0}
      width={1} tickSize={0} tickMargin={0} tickLine={false} axisLine={axisLine} tick={makeTick("l", isDecade, isDecade)} />
    <YAxis yAxisId="right" orientation="right" dataKey="y" type="number" scale="log" domain={LEFT_Y} allowDataOverflow
      ticks={leftYTicks} interval={0} width={1} tickSize={0} tickMargin={0} tickLine={false} axisLine={axisLine}
      tick={makeTick("r", isDecade)} />
    {seriesLines(leftSeries)}
    <Scatter data={toPts(kmaxU1)} fill={BLUE} shape={Triangle} isAnimationActive={false} legendType="none" />
    <Scatter data={toPts(kmaxU2)} fill={ORANGE} shape={Triangle} isAnimationActive={false} legendType="none" />
  </ComposedChart>
);

const RightPanel = () => (
  <ComposedChart width={1393} height={1771} margin={{ top: 319, right: 328, bottom: 212, left: 152 }}>
    <XAxis dataKey="x" type="number" scale="log" domain={RIGHT_X} allowDataOverflow ticks={rightXTicks} interval={0}
      height={1} tickSize={0} tickMargin={0} tickLine={false} axisLine={axisLine} tick={makeTick("b", isDecade, isDecade)} />
    <XAxis xAxisId="top" orientation="top" dataKey="x" type="number" scale="log" domain={RIGHT_X} allowDataOverflow
      ticks={rightXTicks} interval={0} height={1} tickSize={0} tickMargin={0} tickLine={false} axisLine={axisLine}
      tick={makeTick("t", isDecade)} />
    <YAxis dataKey="y" type="number" scale="log" domain={RIGHT_Y} allowDataOverflow ticks={rightYTicks} interval={0}
      width={1} tickSize={0} tickMargin={0} tickLine={false} axisLine={axisLine}
      tick={makeTick("l", isEvenDecade, isEvenDecade)} />
    <YAxis yAxisId="right" orientation="right" dataKey="y" type="number" scale="log" domain={RIGHT_Y} allowDataOverflow
      ticks={rightYTicks} interval={0} width={1} tickSize={0} tickMargin={0} tickLine={false} axisLine={axisLine}
      tick={makeTick("r", isEvenDecade)} />
    {seriesLines(rightSeries)}
    <Scatter data={nasmythLabels} shape={NasLabel} isAnimationActive={false} legendType="none" />
  </ComposedChart>
);

const Overlay = () => (
  <svg width={2953} height={1771} style={{ position: "absolute", left: 0, top: 0, pointerEvents: "none" }}>
    {titleLeft.map((segs, i) => (
      <Rich key={`tl${i}`} x={606} y={[174, 225, 286][i]} anchor="middle" size={41} segs={segs} />
    ))}
    {titleRight.map((segs, i) => (
      <Rich key={`tr${i}`} x={2168} y={[186, 237, 286][i]} anchor="middle" size={41} segs={segs} />
    ))}
    <Rich x={606} y={1672} anchor="middle" size={41} segs={[["k", "it"], ["  [cpm]"]]} />
    <Rich x={2172} y={1672} anchor="middle" size={41} segs={[["f", "it"], ["  [Hz]"]]} />
    <Rich x={72} y={895} anchor="middle" size={41} rotate={-90}
      segs={[["Φ ("], ["k", "it"], [")  [s"], ["-2", "sup"], [" cpm"], ["-1", "sup"], ["]"]]} />
    <Rich x={1607} y={938} anchor="middle" size={41} rotate={-90} segs={[["[Variance Hz"], ["-1", "sup"], ["]"]]} />

    <rect x={1052} y={319} width={455} height={712} fill="#fff" stroke={AXIS_COLOR} strokeWidth={3} />
    {leftLegend.map((r, i) => (
      <g key={`ll${i}`}>
        {r.kind === "line" ? (
          <line x1={1061} x2={1124} y1={r.y} y2={r.y} stroke={r.color} strokeWidth={7} />
        ) : (
          <polygon points={`1093,${r.y - 14} 1079,${r.y + 11} 1107,${r.y + 11}`} fill={r.color} />
        )}
        <Rich x={1132} y={r.base} size={41} segs={r.segs} />
      </g>
    ))}

    <rect x={2642} y={318} width={251} height={492} fill="#fff" stroke={AXIS_COLOR} strokeWidth={3} />
    {rightLegend.map((r, i) => (
      <g key={`rl${i}`}>
        <line x1={2653} x2={2714} y1={rightLegendRows[i]} y2={rightLegendRows[i]} stroke={r.color} strokeWidth={7} />
        <Rich x={2719} y={rightLegendRows[i] + 9} size={41} segs={r.segs} />
      </g>
    ))}
  </svg>
);

export default function App() {
  return (
    <div style={{ position: "fixed", left: 0, top: 0, width: 2953, height: 1771, background: "#fff", overflow: "hidden", fontFamily: FONT }}>
      <div style={{ position: "absolute", left: 0, top: 0 }}>
        <LeftPanel />
      </div>
      <div style={{ position: "absolute", left: 1560, top: 0 }}>
        <RightPanel />
      </div>
      <Overlay />
    </div>
  );
}
